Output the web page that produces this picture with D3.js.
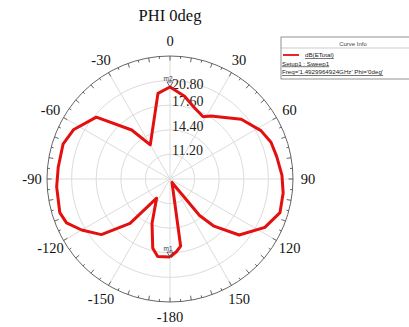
<!DOCTYPE html>
<html>
<head>
<meta charset="utf-8">
<script src="https://cdn.jsdelivr.net/npm/d3@7/dist/d3.min.js"></script>
<style>
  html, body { margin: 0; padding: 0; background: #fff; }
  svg { display: block; }
</style>
</head>
<body>
<svg id="chart" width="409" height="327"></svg>
<script>
// Far-field pattern, dB(ETotal) vs Theta, cut at Phi = 0deg
const thetaDeg = [-180, -171, -166, -158, -145, -138, -129, -120, -113, -107, -94, -84, -72, -63, -50, -38, -30, -8,
                  0, 10, 18, 28, 33, 50, 62, 70, 78, 88, 97, 107, 117, 129, 137, 141, 150, 171, 175, 180];
const gainDb   = [18.15, 18.22, 17.27, 14.24, 11.04, 15.77, 19.49, 21.27, 22.62, 22.99, 22.78, 22.62, 22.63, 22.10, 20.51, 16.09, 13.13, 19.25,
                  19.97, 18.93, 17.89, 17.17, 17.76, 20.10, 21.40, 21.98, 22.18, 22.57, 22.83, 22.96, 21.85, 19.58, 16.39, 14.11, 8.52, 16.85, 17.50, 18.15];

const ringValues   = [11.2, 14.4, 17.6, 20.8];
const ringLabels   = ["11.20", "14.40", "17.60", "20.80"];
const angleTicks   = [0, 30, 60, 90, 120, 150, 180, -150, -120, -90, -60, -30];
const angleLabels  = ["0", "30", "60", "90", "120", "150", "-180", "-150", "-120", "-90", "-60", "-30"];
const markerNames  = ["m1", "m2"];
const markerTheta  = [180, 0];
const legendLines  = ["dB(ETotal)", "Setup1 : Sweep1", "Freq='1.4929964924GHz' Phi='0deg'"];

const cx = 170, cy = 179, R = 123;
const svg = d3.select("#chart");
const r = d3.scaleLinear().domain([8, 24]).range([0, R]);
const rad = d => d * Math.PI / 180;

// Title
svg.append("text")
  .attr("x", 170).attr("y", 21)
  .attr("text-anchor", "middle")
  .attr("font-family", "Liberation Serif, serif")
  .attr("font-size", 16.5)
  .attr("fill", "#111")
  .text("PHI 0deg");

const g = svg.append("g").attr("transform", `translate(${cx},${cy})`);

// Grid rings
g.selectAll("circle.ring").data(ringValues).join("circle")
  .attr("class", "ring")
  .attr("r", d => r(d))
  .attr("fill", "none")
  .attr("stroke", "#dcdcdc")
  .attr("stroke-width", 1);

// Spokes every 30 degrees
g.selectAll("line.spoke").data(angleTicks).join("line")
  .attr("class", "spoke")
  .attr("x1", 0).attr("y1", 0)
  .attr("x2", d => R * Math.sin(rad(d)))
  .attr("y2", d => -R * Math.cos(rad(d)))
  .attr("stroke", "#dcdcdc")
  .attr("stroke-width", 1);

// Outer boundary
g.append("circle")
  .attr("r", R)
  .attr("fill", "none")
  .attr("stroke", "#666")
  .attr("stroke-width", 1);

// Minor / major ticks on the boundary, pointing inward
const tickAngles = d3.range(-180, 180, 5);
g.selectAll("line.tick").data(tickAngles).join("line")
  .attr("class", "tick")
  .attr("x1", d => R * Math.sin(rad(d)))
  .attr("y1", d => -R * Math.cos(rad(d)))
  .attr("x2", d => (R - (d % 10 === 0 ? 4.5 : 2.5)) * Math.sin(rad(d)))
  .attr("y2", d => -(R - (d % 10 === 0 ? 4.5 : 2.5)) * Math.cos(rad(d)))
  .attr("stroke", "#555")
  .attr("stroke-width", 0.9);

// Angle labels
const labelR = 138;
g.selectAll("text.ang").data(angleTicks).join("text")
  .attr("class", "ang")
  .attr("x", d => labelR * Math.sin(rad(d)))
  .attr("y", d => -labelR * Math.cos(rad(d)))
  .attr("dy", "0.35em")
  .attr("text-anchor", "middle")
  .attr("font-family", "Liberation Serif, serif")
  .attr("font-size", 14.5)
  .attr("fill", "#111")
  .text((d, i) => angleLabels[i]);

// Ring value labels along the 0 deg spoke
g.selectAll("text.rl").data(ringValues).join("text")
  .attr("class", "rl")
  .attr("x", 2)
  .attr("y", (d, i) => -r(d) + (i === 3 ? 8 : 1))
  .attr("font-family", "Liberation Serif, serif")
  .attr("font-size", 14)
  .attr("fill", "#222")
  .text((d, i) => ringLabels[i]);

// Pattern trace
const pts = thetaDeg.map((t, i) => [rad(t), r(gainDb[i])]);
g.append("path")
  .datum(pts)
  .attr("d", d3.lineRadial().angle(d => d[0]).radius(d => d[1]))
  .attr("fill", "none")
  .attr("stroke", "#e41010")
  .attr("stroke-width", 3)
  .attr("stroke-linejoin", "round");

// Markers
markerTheta.forEach((t, i) => {
  const idx = thetaDeg.indexOf(t);
  const rr = r(gainDb[idx]);
  const x = rr * Math.sin(rad(t)), y = -rr * Math.cos(rad(t));
  g.append("path")
    .attr("d", `M${x - 3},${y - 5}L${x + 3},${y - 5}L${x},${y}Z`)
    .attr("fill", "none")
    .attr("stroke", "#445")
    .attr("stroke-width", 0.8);
  g.append("text")
    .attr("x", x - 2).attr("y", y - 6)
    .attr("text-anchor", "middle")
    .attr("font-family", "Liberation Sans, sans-serif")
    .attr("font-size", 6.5)
    .attr("fill", "#334")
    .text(markerNames[i]);
});

// Legend box
const lg = svg.append("g").attr("transform", "translate(281,37)");
lg.append("rect")
  .attr("x", 0).attr("y", 0).attr("width", 150).attr("height", 42)
  .attr("fill", "#fff").attr("stroke", "#777").attr("stroke-width", 0.8);
lg.append("line")
  .attr("x1", 0).attr("x2", 150).attr("y1", 11).attr("y2", 11)
  .attr("stroke", "#aaa").attr("stroke-width", 0.6);
lg.append("text")
  .attr("x", 72).attr("y", 8.5)
  .attr("text-anchor", "middle")
  .attr("font-family", "Liberation Sans, sans-serif")
  .attr("font-size", 6)
  .attr("fill", "#444")
  .text("Curve Info");
lg.append("line")
  .attr("x1", 2).attr("x2", 18).attr("y1", 18).attr("y2", 18)
  .attr("stroke", "#e41010").attr("stroke-width", 1.8);
lg.selectAll("text.li").data(legendLines).join("text")
  .attr("class", "li")
  .attr("x", (d, i) => i === 0 ? 24 : 1)
  .attr("y", (d, i) => 20 + i * 8.5)
  .attr("font-family", "Liberation Sans, sans-serif")
  .attr("font-size", 6.2)
  .attr("fill", "#222")
  .attr("text-decoration", "underline")
  .text(d => d);
</script>
</body>
</html>
